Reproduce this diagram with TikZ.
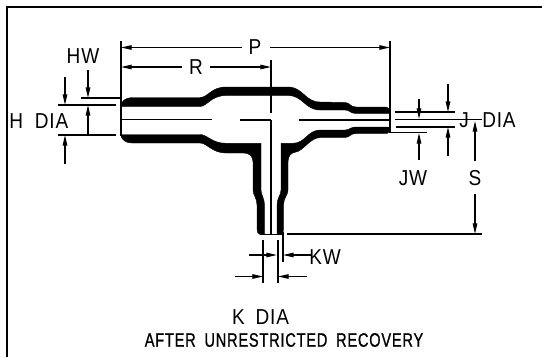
\documentclass[tikz,border=0pt]{standalone}
\usepackage{fontspec}
\setmainfont[FakeStretch=0.88,LetterSpace=4]{Liberation Sans}
\newfontfamily\boldish[FakeStretch=0.75,FakeBold=0.9,LetterSpace=4]{Liberation Sans}
\usetikzlibrary{arrows.meta}
\tikzset{
  dimline/.style={line width=0.95pt,black},
  dimarrow/.style={dimline,-{Triangle[length=8pt,width=3.4pt]}},
  tube/.style={fill=black,draw=black,line width=0.3pt},
  lbl/.style={inner sep=0pt,font=\fontsize{16.2pt}{16.2pt}\selectfont},
  frameline/.style={line width=1.5pt,black}
}
\begin{document}
\begin{tikzpicture}[x=0.75pt,y=-0.75pt]
\useasboundingbox (0,0) rectangle (542,357);
\fill[white] (0,0) rectangle (542,357);
% frame
\draw[frameline] (542,7) -- (7,7) -- (7,357);
% upper wall
\path[tube] (121,105) .. controls (122,101) and (125,98) .. (132,97.5) -- (200,97.5)
  .. controls (208,97.5) and (211,87) .. (226,87) -- (288,87)
  .. controls (303,87) and (305,102) .. (320,102) -- (345,102.5)
  .. controls (350,102.5) and (350,107) .. (356,107) -- (386,107)
  -- (390,109) -- (390,113.5) -- (356,113.5)
  .. controls (350,113.5) and (350,110) .. (345,110) -- (320,110)
  .. controls (305,110) and (303,95.5) .. (288,95.5) -- (226,95.5)
  .. controls (211,95.5) and (207,106.5) .. (200,106.5) -- (121,106.5) -- cycle;
% lower left wall and leg
\path[tube] (121,134.5) -- (200,134.5)
  .. controls (207,134.5) and (212,143.3) .. (226,143.3) -- (261,143.3)
  -- (261,190) .. controls (261,195) and (264.5,198) .. (264.5,205) -- (264.5,234.5)
  -- (260,234.5) .. controls (258,234) and (257,232) .. (257,229) -- (257,205)
  .. controls (257,198) and (253,195) .. (253,190) -- (253,162)
  .. controls (253,157) and (250,153) .. (244,153) -- (226,153)
  .. controls (212,153) and (207,143) .. (200,143) -- (132,143)
  .. controls (126,143) and (122,140) .. (121,136) -- cycle;
% lower right wall and leg
\path[tube] (390,127) -- (390,131) -- (387,133.5)
  -- (356,133.5) .. controls (350,133.5) and (350,137.5) .. (345,137.5) -- (320,137.5)
  .. controls (310,138) and (303,151) .. (296,152)
  .. controls (291,152.5) and (288,156) .. (288,162) -- (288,190)
  .. controls (288,195) and (283.5,198) .. (283.5,205) -- (283.5,229)
  .. controls (283.5,232) and (283,234) .. (281,234.5) -- (277,234.5) -- (277,205)
  .. controls (277,198) and (281,195) .. (281,190) -- (281,143.3) -- (293,143.3)
  .. controls (305,143.3) and (308,130) .. (320,130) -- (345,130)
  .. controls (350,130) and (350,127) .. (356,127) -- cycle;
% centre lines
\draw[dimline] (121,119.5) -- (212,119.5);
\draw[dimline] (240,120) -- (271,120);
\draw[dimline] (299,120) -- (390,120);
\draw[dimline] (395,119.5) -- (482,119.5);
\draw[dimline] (271,60) -- (271,113);
\draw[dimline] (271,120) -- (271,234.5);
\draw[dimline] (260,234.5) -- (282,234.5);
% extension lines
\draw[dimline] (121,41) -- (121,136);
\draw[dimline] (390,41) -- (390,133);
% P
\draw[dimarrow] (242,47.5) -- (121,47.5);
\draw[dimarrow] (270,47.5) -- (390,47.5);
\node[lbl] (p) at (255,47.5) {P};
% R
\draw[dimarrow] (182,67) -- (121,67);
\draw[dimarrow] (210,67) -- (271,67);
\node[lbl] (r) at (196,67.5) {R};
% HW / H DIA
\node[lbl] (hw) at (83,56.5) {HW};
\node[lbl,anchor=west] (hdia) at (9,121) {H\hspace{0.55em}DIA};
\draw[dimline] (81,98) -- (121,98);
\draw[dimline] (58,105) -- (116,105);
\draw[dimline] (58,135) -- (116,135);
\draw[dimarrow] (65,77) -- (65,105);
\draw[dimarrow] (88,70) -- (88,98);
\draw[dimarrow] (88,135) -- (88,105);
\draw[dimarrow] (65,164) -- (65,135);
% J / JW
\draw[dimline] (395,112) -- (455,112);
\draw[dimline] (396,127) -- (455,127);
\draw[dimline] (390,132.5) -- (427,132.5);
\draw[dimarrow] (419,99) -- (419,119);
\draw[dimarrow] (419,160) -- (419,133);
\draw[dimarrow] (448,84) -- (448,112);
\draw[dimarrow] (448,156) -- (448,127);
\node[lbl] (j) at (464,120.5) {J};
\node[lbl,anchor=west] (jdia) at (482,120.5) {DIA};
\node[lbl] (jw) at (413,178) {JW};
% S
\draw[dimline] (287,234) -- (482,234);
\draw[dimarrow] (475,161) -- (475,121);
\draw[dimarrow] (475,194) -- (475,234);
\node[lbl] (s) at (475,178) {S};
% K / KW
\draw[dimline] (263,240) -- (263,283);
\draw[dimline] (278,240) -- (278,283);
\draw[dimline] (283,232) -- (283,262);
\draw[dimarrow] (249,255) -- (277,255);
\draw[dimarrow] (311,255) -- (283,255);
\draw[dimarrow] (235,276.5) -- (263,276.5);
\draw[dimarrow] (307,276.5) -- (278,276.5);
\node[lbl] (kw) at (325,257) {KW};
\node[lbl] (kdia) at (260.5,317.5) {K\hspace{0.5em}DIA};
\node[inner sep=0pt,font=\boldish\fontsize{14.6pt}{14.6pt}\selectfont] (after) at (284,340) {AFTER\hspace{0.2em} UNRESTRICTED\hspace{0.2em} RECOVERY};
\end{tikzpicture}
\end{document}
